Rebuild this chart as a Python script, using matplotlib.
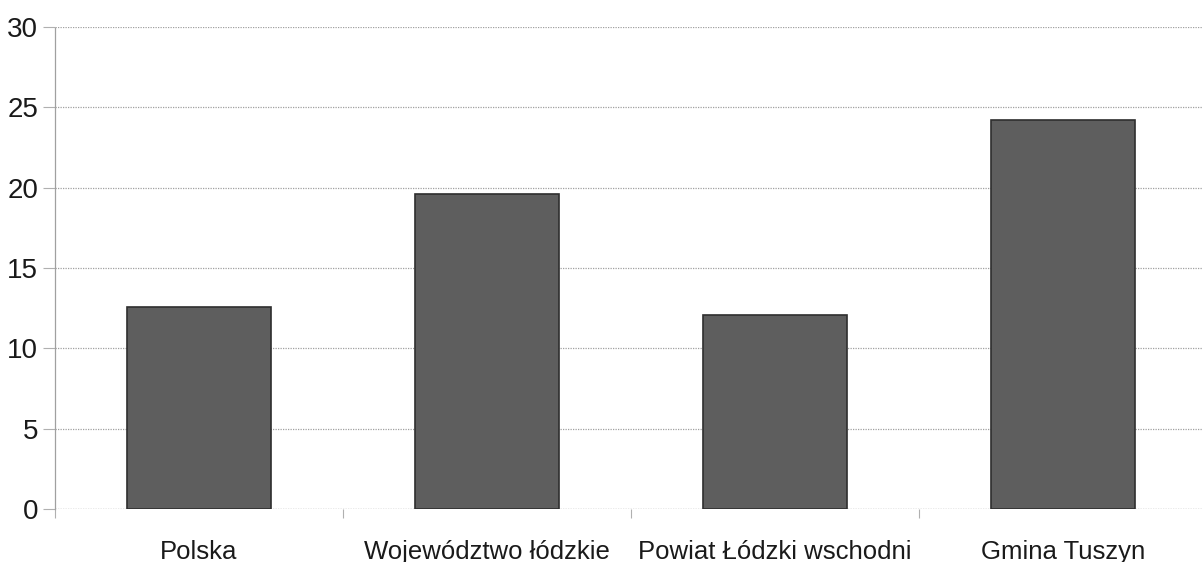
import numpy as np
from matplotlib import pyplot as plt

# values
categories = ['Polska', 'Województwo łódzkie', 'Powiat Łódzki wschodni', 'Gmina Tuszyn']
values = [12.6, 19.6, 12.1, 24.2]
yticks = [0, 5, 10, 15, 20, 25, 30]

plt.rcParams['font.family'] = ['Liberation Sans', 'DejaVu Sans']

fig = plt.figure(figsize=(12.03, 5.62), dpi=100)
ax = fig.add_axes([55/1203, 53/562, 1152/1203, 482/562])

x = np.arange(len(categories))
ax.bar(x, values, width=0.5, color='#5e5e5e', edgecolor='#2e2e2e', linewidth=1.2, zorder=3)

ax.set_xlim(-0.5, len(categories) - 0.5)
ax.set_ylim(0, 30)
ax.set_yticks(yticks)
ax.set_yticklabels([str(t) for t in yticks], fontsize=20, color='#1a1a1a')
ax.set_xticks(x)
ax.set_xticklabels(categories, fontsize=18.5, color='#1a1a1a')

# category borders as minor ticks (lengths in points)
ax.set_xticks(np.arange(-0.5, len(categories), 1.0), minor=True)
ax.tick_params(axis='x', which='major', length=0, pad=22)
ax.tick_params(axis='x', which='minor', length=6.5, color='#b0b0b0', width=0.8)
ax.tick_params(axis='y', length=8.5, color='#b0b0b0', width=0.8, pad=3.5)

ax.grid(axis='y', color='#a0a0a0', linestyle=(0, (1, 1)), linewidth=0.9, zorder=0)
for s in ['top', 'right', 'bottom']:
    ax.spines[s].set_visible(False)
ax.spines['left'].set_color('#a0a0a0')
ax.spines['left'].set_linestyle((0, (1, 1)))
ax.spines['left'].set_linewidth(0.9)
ax.axhline(0, color='#b0b0b0', linestyle=(0, (1, 1)), linewidth=0.9, zorder=1)

fig.savefig('out.png', dpi=100)
